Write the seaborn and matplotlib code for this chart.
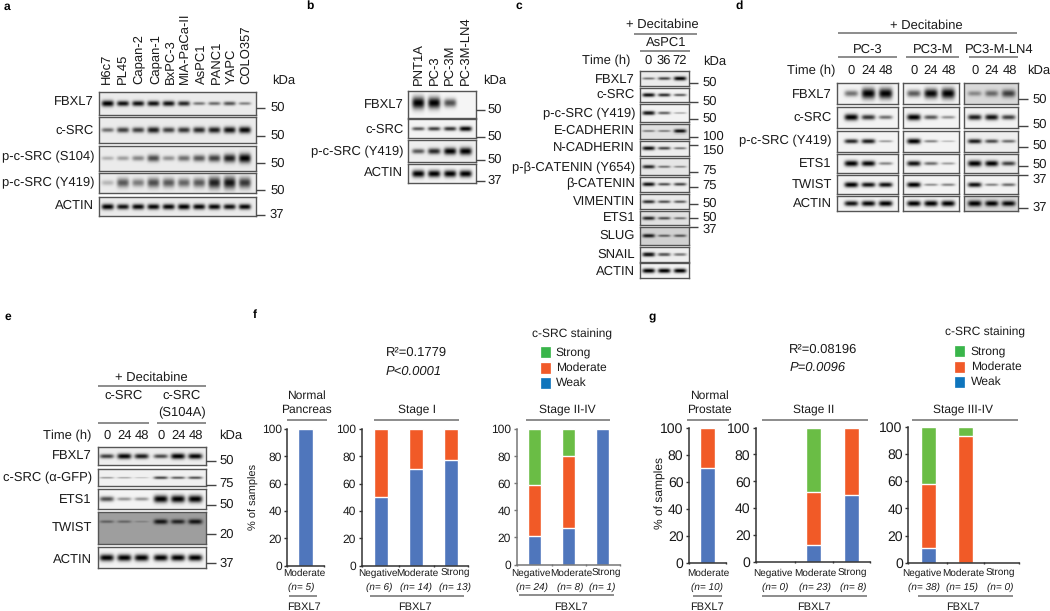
import numpy as np
import pandas as pd
import matplotlib
matplotlib.use("Agg")
import matplotlib.pyplot as plt
import seaborn as sns

sns.set_theme(style="white")
plt.rcParams['font.family'] = ['Liberation Sans', 'DejaVu Sans']
plt.rcParams['text.hinting'] = 'none'
plt.rcParams['text.hinting_factor'] = 1
W, H = 1050, 611

# ---------- data: bar charts (percent of samples) ----------
fbxl7_three = ["Negative", "Moderate", "Strong"]
pancreas_weak, pancreas_mod, pancreas_strong = [100], [0], [0]
stage1_weak, stage1_mod, stage1_strong = [50, 71, 77], [50, 29, 23], [0, 0, 0]
stage24_weak, stage24_mod, stage24_strong = [21, 27, 100], [38, 53, 0], [41, 20, 0]
prostate_weak, prostate_mod, prostate_strong = [70], [30], [0]
stage2_weak, stage2_mod, stage2_strong = [0, 13, 50], [0, 39, 50], [0, 48, 0]
stage34_weak, stage34_mod, stage34_strong = [11, 0, 0], [47, 93, 0], [42, 7, 0]
pancreas_n = ["(n= 5)"]
stage1_n = ["(n= 6)", "(n= 14)", "(n= 13)"]
stage24_n = ["(n= 24)", "(n= 8)", "(n= 1)"]
prostate_n = ["(n= 10)"]
stage2_n = ["(n= 0)", "(n= 23)", "(n= 8)"]
stage34_n = ["(n= 38)", "(n= 15)", "(n= 0)"]

# ---------- data: blot band intensities per lane ----------
a_lanes = ["H6c7", "PL45", "Capan-2", "Capan-1", "BxPC-3", "MIA-PaCa-II", "AsPC1", "PANC1", "YAPC", "COLO357"]
a_names = ["FBXL7", "c-SRC", "p-c-SRC (S104)", "p-c-SRC (Y419)", "ACTIN"]
a_fbxl7 = [1.0, .8, .8, .8, .8, .7, .35, .4, .5, .3]
a_csrc = [.4, .6, .6, .75, .6, .65, .7, .75, .8, .85]
a_s104 = [.12, .2, .3, .55, .25, .4, .5, .6, .75, .9]
a_y419 = [.1, .5, .35, .55, .5, .45, .5, .75, .8, .65]
a_actin = [.9, .8, .85, .85, .85, .9, .85, .85, .8, .85]

b_lanes = ["PNT1A", "PC-3", "PC-3M", "PC-3M-LN4"]
b_names = ["FBXL7", "c-SRC", "p-c-SRC (Y419)", "ACTIN"]
b_fbxl7 = [1.0, .9, .55, 0]
b_csrc = [.5, .6, .65, .85]
b_y419 = [.5, .7, .9, 1.0]
b_actin = [.95, .9, .9, .9]

c_names = ["FBXL7", "c-SRC", "p-c-SRC (Y419)", "E-CADHERIN", "N-CADHERIN", "p-β-CATENIN (Y654)",
           "β-CATENIN", "VIMENTIN", "ETS1", "SLUG", "SNAIL", "ACTIN"]
c_vals = [[.35, .55, .85], [.8, .65, .45], [.75, .4, .1], [.3, .3, .8], [.8, .55, .35], [.7, .35, .25],
          [.8, .5, .55], [.65, .5, .45], [.7, .5, .35], [.75, .4, .45], [.8, .5, .35], [1, 1, .95]]
c_kda = ["50", "50", "50", "100", "150", "75", "75", "50", "50", "37"]

d_names = ["FBXL7", "c-SRC", "p-c-SRC (Y419)", "ETS1", "TWIST", "ACTIN"]
d_pc3 = [[.4, 1, 1], [.95, .65, .4], [.7, .75, .2], [.95, .85, .3], [.95, .8, .8], [.8, .85, .9]]
d_pc3m = [[.5, .85, 1], [.9, .5, .25], [.95, .3, .08], [.8, .4, .2], [.9, .25, .3], [.9, .95, .95]]
d_ln4 = [[.25, .4, .6], [.75, .8, .6], [.75, .55, .4], [1, .9, .6], [.8, .3, .4], [1, .9, .85]]

e_names = ["FBXL7", "c-SRC (α-GFP)", "ETS1", "TWIST", "ACTIN"]
e_vals = [[.6, .85, .75, .55, .9, .85], [.2, .15, .05, .55, .45, .5], [.55, .25, .25, 1, 1, 1],
          [.25, .22, .05, .75, .65, .75], [1, 1, 1, .95, .95, .95]]

C_BLUE, C_ORANGE, C_GREEN = "#4F76BC", "#F15A27", "#6ABD45"
fig = plt.figure(figsize=(W / 100, H / 100), dpi=100, facecolor="white")
ov = fig.add_axes([0, 0, 1, 1], zorder=5)
ov.set_xlim(0, W); ov.set_ylim(H, 0); ov.axis("off"); ov.patch.set_alpha(0)


def T(x, y, s, ha="center", size=9.4, **kw):
    kw.setdefault("color", "#1a1a1a")
    kw.setdefault("va", "center")
    return ov.text(x, y, s, ha=ha, fontsize=size, **kw)


def L(x0, x1, y, c="#6e6e6e", lw=1.1):
    ov.plot([x0, x1], [y, y], color=c, lw=lw, solid_capstyle="butt")


def blot(x0, x1, y0, y1, lanes, vals, bg=.93, thick=1.0, yf=.5):
    ax = fig.add_axes([x0 / W, 1 - y1 / H, (x1 - x0) / W, (y1 - y0) / H])
    ny, nx = max(int((y1 - y0) * 2), 4), int((x1 - x0) * 2)
    xs = np.linspace(x0, x1, nx)[None, :]
    ys = np.linspace(y0, y1, ny)[:, None]
    sp = (lanes[-1] - lanes[0]) / (len(lanes) - 1)
    img = np.full((ny, nx), float(bg))
    for c, v in zip(lanes, vals):
        if v <= 0:
            continue
        sy = 1.7 * (.6 + 1.3 * v) * thick
        prof = np.exp(-((xs - c) / (sp * .40)) ** 4) * np.exp(-((ys - (y0 + (y1 - y0) * yf)) / sy) ** 2)
        img = img * (1 - min(1, .12 + v) * prof)
    sns.heatmap(img, ax=ax, cmap="gray", vmin=0, vmax=1, cbar=False,
                xticklabels=False, yticklabels=False, rasterized=True)
    for s in ax.spines.values():
        s.set_visible(True); s.set_color("#555555"); s.set_linewidth(1)


def bars(x0, x1, y0, y1, c0, sp, cats, weak, mod, strong, size=8.3, spine="#333333", width=.39):
    ax = fig.add_axes([x0 / W, 1 - y1 / H, (x1 - x0) / W, (y1 - y0) / H], facecolor="none")
    weak, mod, strong = map(np.array, (weak, mod, strong))
    df = pd.DataFrame({"cat": cats, "weak": weak, "mid": weak + mod, "top": weak + mod + strong})
    for col, color in zip(["top", "mid", "weak"], [C_GREEN, C_ORANGE, C_BLUE]):
        sns.barplot(data=df, x="cat", y=col, color=color, saturation=1, width=width, ax=ax)
    n = len(cats)
    ax.set_xlim((x0 - c0) / sp, (x1 - c0) / sp)
    ax.set_ylim(0, 100)
    ax.set_xlabel(""); ax.set_ylabel("")
    lo, hi = ax.get_xlim()
    ax.set_xticks([lo] + [i + .5 for i in range(n - 1)] + [hi])
    ax.set_xticklabels([])
    ax.set_yticks(range(0, 101, 20))
    ax.tick_params(axis="y", labelsize=size, length=2.5, width=1, color=spine, left=True, pad=1.5, labelcolor="#1a1a1a")
    ax.tick_params(axis="x", length=2, width=1, color=spine, bottom=True, direction="inout")
    sns.despine(ax=ax)
    for s in ("left", "bottom"):
        ax.spines[s].set_color(spine); ax.spines[s].set_linewidth(1.1)


def xlabels(y_c, y_n, y_l, y_f, cx, nx, names, ns, lx0, lx1, fx, size=6.9):
    for x, s in zip(cx, names):
        T(x, y_c, s, size=size)
    for x, s in zip(nx, ns):
        T(x, y_n, s, size=size, style="italic")
    L(lx0, lx1, y_l)
    T(fx, y_f, "FBXL7", size=7.7)


def kda(x0, x1, xt, ys, yl, labs, size=9.4):
    for y, yy, s in zip(ys, yl, labs):
        L(x0, x1, y, c="#444444", lw=1)
        T(xt, yy, s, ha="left", size=size)


# panel letters
for x, y, s in [(7, 7, "a"), (310, 6, "b"), (519, 6, "c"), (739, 6, "d"), (8, 317, "e"), (255, 315, "f"), (652, 317, "g")]:
    T(x, y, s, size=8.5, weight="bold", color="black")

# ---- a ----
a_x = np.linspace(107.3, 245, 10)
for (y0, y1), v, t in zip([(92.3, 115), (117.3, 143), (145.7, 170.7), (172.7, 192.7), (197, 216)],
                          [a_fbxl7, a_csrc, a_s104, a_y419, a_actin], [1, 1.2, 1.6, 2.2, 1]):
    blot(99, 255.7, y0, y1, a_x, v, bg=.92, thick=t)
for y, s in zip([101.5, 131, 157, 182.5, 205.5], a_names):
    T(94, y, s, ha="right", size=9.3)
for x, s in zip([106, 123, 138, 155, 170, 184, 201, 216, 231, 246], a_lanes):
    T(x, 84, s, rotation=90, va="bottom")
T(272, 80.7, "kDa", ha="left")
kda(256, 265, 270, [107.7, 136, 163, 190, 215], [108, 136, 164, 191, 215], ["50", "50", "50", "50", "37"])

# ---- b ----
b_x = [418.3, 434.3, 450, 465.7]
for (y0, y1), v, bg, t, yf in zip([(90.7, 117.7), (119.3, 138.3), (140.3, 162.3), (164.3, 183.3)],
                                  [b_fbxl7, b_csrc, b_y419, b_actin], [.96, .95, .93, .95],
                                  [1.9, .9, 1.2, 1.2], [.45, .5, .5, .5]):
    blot(408.3, 475.7, y0, y1, b_x, v, bg=bg, thick=t, yf=yf)
for y, s in zip([105, 130, 151.7, 172.7], b_names):
    T(403.3, y, s, ha="right")
for x, s in zip([419, 434, 449, 465], b_lanes):
    T(x, 85, s, rotation=90, va="bottom")
T(483, 81, "kDa", ha="left")
kda(475.7, 485, 487, [110, 136.7, 160, 180.7], [110, 137, 160, 180.7], ["50", "50", "50", "37"])

# ---- c ----
c_x = [648.3, 664, 680]
c_rows = [(214, 258), (265, 306), (313, 365), (371, 416), (422, 467), (474, 525), (530, 575), (583, 628),
          (633, 675), (680, 735), (742, 785), (790, 835)]
c_bgs = [.92, .95, .95, .88, .93, .9, .93, .92, .88, .82, .93, .95]
for (y0, y1), v, bg in zip(c_rows, c_vals, c_bgs):
    blot(640, 689, y0 / 3, y1 / 3, c_x, v, bg=bg, thick=.75)
for py, s in zip([240, 285, 342, 393, 443, 503, 552, 605, 652, 706, 765, 816], c_names):
    T(635, py / 3, s, ha="right")
T(662, 25, "+ Decitabine")
L(634.3, 697, 33.7)
T(666, 43, "AsPC1")
L(640, 690, 51)
T(630.7, 61, "Time (h)", ha="right")
for x, s in zip(c_x, ["0", "36", "72"]):
    T(x, 61, s)
T(702.7, 61.7, "kDa", ha="left")
kda(689, 698, 702.5, [83, 101.7, 119, 137, 145, 171.7, 187, 204, 218, 227],
    [83, 101.7, 119, 137, 150.7, 171.7, 186.7, 204, 218, 230], c_kda)

# ---- d ----
d_rows = [(248, 313), (320, 384), (392, 455), (462, 518), (525, 582), (588, 632)]
d_bgs = [[.95] * 6, [.95] * 6, [.85, .95, .93, .93, .95, .85]]
d_thick = [1.7, 1.1, .9, 1, .9, 1]
for (x0, x1), lanes, vals, bgs in zip([(837, 897.7), (902.7, 959.3), (964, 1018)],
                                      [[851, 868.3, 885.7], [913.7, 931, 948.3], [974.3, 991.7, 1009]],
                                      [d_pc3, d_pc3m, d_ln4], d_bgs):
    for (y0, y1), v, bg, t in zip(d_rows, vals, bgs, d_thick):
        blot(x0, x1, y0 / 3, y1 / 3, lanes, v, bg=bg, thick=t)
for py, s in zip([285, 353, 423, 490, 553, 610], d_names):
    T(831.7, py / 3, s, ha="right")
T(926.7, 25.7, "+ Decitabine")
L(838, 1017, 32.7)
T(867.7, 49.3, "PC-3"); L(838, 897, 57.3)
T(932.7, 49.3, "PC3-M"); L(906, 959, 57.3)
T(999, 49.3, "PC3-M-LN4"); L(969, 1018, 57.3)
T(835.7, 71, "Time (h)", ha="right")
for x, s in zip([851, 868.3, 885.7, 913.7, 931, 949, 975, 991.7, 1010], ["0", "24", "48"] * 3):
    T(x, 71, s)
T(1027, 71, "kDa", ha="left", size=9)
kda(1018, 1028, 1032.7, [99.3, 125.7, 146.7, 165.7, 175, 208.3], [100, 125, 146, 165, 180, 208],
    ["50", "50", "50", "50", "37", "37"])

# ---- e ----
e_x = [106.7, 124.3, 141.7, 161, 178.3, 195.7]
for (y0, y1), v, bg, t, yf in zip([(447, 465), (469, 486), (489, 508.7), (512.3, 543.7), (547, 568.3)],
                                  e_vals, [.93, .94, .95, .62, .95], [1, .7, 1.2, 1, 1.1], [.5, .5, .5, .3, .5]):
    blot(98.3, 206, y0, y1, e_x, v, bg=bg, thick=t, yf=yf)
for y, s in zip([455.7, 478.3, 500, 527.3, 560], e_names):
    T(91.7, y, s, ha="right")
T(151.7, 377.3, "+ Decitabine")
L(98, 205.7, 386)
T(124, 396, "c-SRC"); T(181.7, 396, "c-SRC"); T(181.7, 412.7, "(S104A)")
L(98, 149, 423.3); L(156.7, 205.7, 423.3)
T(91, 436, "Time (h)", ha="right")
for x, s in zip(e_x, ["0", "24", "48"] * 2):
    T(x, 436, s)
T(219, 436, "kDa", ha="left")
kda(206, 216, 219, [461, 485, 505, 534.3, 563.3], [461, 485, 505, 534.3, 563.5], ["50", "75", "50", "20", "37"])

# ---- f ----
bars(287.3, 324, 429, 565.7, 305.5, 36.7, ["Moderate"], pancreas_weak, pancreas_mod, pancreas_strong)
bars(361.7, 468, 429, 565.7, 381, 35, fbxl7_three, stage1_weak, stage1_mod, stage1_strong)
bars(516.7, 620, 429, 564.5, 534.8, 34, fbxl7_three, stage24_weak, stage24_mod, stage24_strong, spine="#777777")
T(254, 496.7, "% of samples", rotation=90, size=8.2)
T(385.7, 353, "R²=0.1779", ha="left", size=9.5)
T(385.7, 372, "P<0.0001", ha="left", size=9.5, style="italic")
T(306, 396, "Normal", size=8.6); T(306, 410, "Pancreas", size=8.6)
L(287, 327, 420)
T(417, 409, "Stage I", size=8.5); L(374, 459, 420)
T(567, 409, "Stage II-IV", size=8.5); L(526, 610, 419.7)
xlabels(573.3, 587.3, 596, 606.7, [304], [301], ["Moderate"], pancreas_n, 288.7, 316.7, 304)
xlabels(573.3, 587.3, 596, 606.7, [377.7, 417.7, 455], [379.7, 415.7, 455], fbxl7_three, stage1_n, 370, 464.3, 415)
xlabels(573.3, 587.3, 595, 606.7, [530.7, 571, 606.7], [532, 570, 602.7], fbxl7_three, stage24_n, 519, 614, 570.7)


def legend(xt, xs0, ys, title_x, title_y):
    T(title_x, title_y, "c-SRC staining", size=8.6)
    for y, c, s in zip(ys, ["#39B54A", "#F15A29", "#0F75BC"], ["Strong", "Moderate", "Weak"]):
        ov.add_patch(plt.Rectangle((xs0, y - 5), 9, 10, facecolor=c, edgecolor=c, lw=.5))
        T(xt, y, s, ha="left", size=8.6)


legend(555.7, 540.7, [352, 367.5, 382.5], 572, 334)

# ---- g ----
bars(689, 726, 427.7, 562.7, 707.7, 36, ["Moderate"], prostate_weak, prostate_mod, prostate_strong, size=10, width=.41)
bars(756, 870, 427.5, 562, 775.7, 38, fbxl7_three, stage2_weak, stage2_mod, stage2_strong, size=10)
bars(908.3, 1019, 427, 562.7, 928.7, 36.7, fbxl7_three, stage34_weak, stage34_mod, stage34_strong, size=10, width=.4)
T(660, 493, "% of samples", rotation=90, size=8.5)
T(789.3, 349.3, "R²=0.08196", ha="left", size=9.5)
T(789.3, 367.3, "P=0.0096", ha="left", size=9.5, style="italic")
T(709, 396, "Normal", size=8.5); T(709, 410, "Prostate", size=8.5)
L(687, 729, 420)
T(814, 409, "Stage II", size=8.5); L(761.7, 867.7, 419.7)
T(963.3, 409, "Stage III-IV", size=8.5); L(911.7, 1017.7, 419.7)
xlabels(573.3, 587.3, 596, 606.7, [708.3], [707.3], ["Moderate"], prostate_n, 693, 721.7, 706.7)
xlabels(573.3, 587.3, 596, 606.7, [773.3, 815.7, 852.7], [775, 814.7, 853.3], fbxl7_three, stage2_n, 761.7, 866.7, 814.3)
xlabels(573.3, 587.3, 596, 606.7, [922.3, 963.3, 1000], [924, 962, 1000], fbxl7_three, stage34_n, 917.7, 1012.7, 963.3)
legend(970.7, 955, [351, 366.7, 381.7], 985, 332.7)

fig.savefig("out.png", dpi=100)
